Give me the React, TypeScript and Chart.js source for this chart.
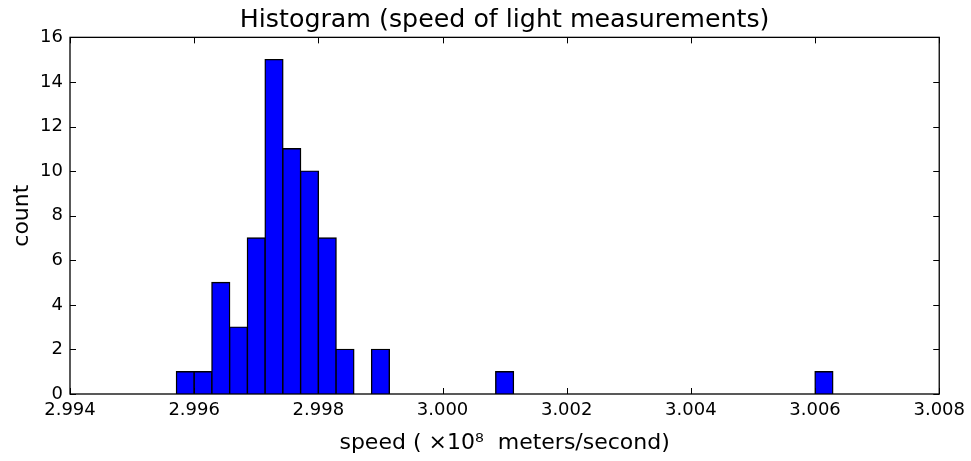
import React, { useEffect, useRef } from 'react';
import { Chart, registerables } from 'chart.js';

Chart.register(...registerables);

// Histogram bins: 37 bins of width 0.002/7, edges aligned on 2.996 and 2.998
const BIN_WIDTH = 0.002 / 7;
const FIRST_BIN_LEFT = 2.996 - BIN_WIDTH;
const binCounts = [
  1, 1, 5, 3, 7, 15, 11, 10, 7, 2,
  0, 2, 0, 0, 0, 0, 0, 0, 1, 0,
  0, 0, 0, 0, 0, 0, 0, 0, 0, 0,
  0, 0, 0, 0, 0, 0, 1,
];
const xTickValues = [2.994, 2.996, 2.998, 3.0, 3.002, 3.004, 3.006, 3.008];
const yTickValues = [0, 2, 4, 6, 8, 10, 12, 14, 16];

const TITLE = 'Histogram (speed of light measurements)';
const X_LABEL = 'speed ( \u00d710\u2078  meters/second)';
const Y_LABEL = 'count';

const FONT = '"DejaVu Sans", sans-serif';

const framePlugin = {
  id: 'frameTicks',
  afterDatasetsDraw(chart: any) {
    const { ctx, chartArea } = chart;
    const { left, right, top, bottom } = chartArea;
    const xs = chart.scales.x;
    const ys = chart.scales.y;
    const len = 6;
    ctx.save();
    ctx.strokeStyle = '#000';
    ctx.lineWidth = 1;
    ctx.beginPath();
    xTickValues.forEach((v) => {
      const px = Math.round(xs.getPixelForValue(v)) + 0.5;
      ctx.moveTo(px, bottom);
      ctx.lineTo(px, bottom - len);
      ctx.moveTo(px, top);
      ctx.lineTo(px, top + len);
    });
    yTickValues.forEach((v) => {
      const py = Math.round(ys.getPixelForValue(v)) + 0.5;
      ctx.moveTo(left, py);
      ctx.lineTo(left + len, py);
      ctx.moveTo(right, py);
      ctx.lineTo(right - len, py);
    });
    ctx.stroke();
    ctx.lineWidth = 1.3;
    ctx.strokeRect(left, top, right - left, bottom - top);
    ctx.restore();
  },
};

export default function App() {
  const canvasRef = useRef<HTMLCanvasElement | null>(null);

  useEffect(() => {
    const canvas = canvasRef.current;
    if (!canvas) return;
    Chart.defaults.font.family = FONT;
    Chart.defaults.color = '#000';

    const data = binCounts
      .map((c, i) => ({ x: FIRST_BIN_LEFT + (i + 0.5) * BIN_WIDTH, y: c }))
      .filter((p) => p.y > 0);

    const chart = new Chart(canvas, {
      type: 'bar',
      data: {
        datasets: [
          {
            data: data as any,
            backgroundColor: '#0000ff',
            borderColor: '#000000',
            borderWidth: 1.4,
            inflateAmount: 0.7,
            borderSkipped: 'start',
            categoryPercentage: 1,
            barPercentage: 1,
          } as any,
        ],
      },
      plugins: [framePlugin],
      options: {
        responsive: false,
        animation: false,
        devicePixelRatio: 1,
        layout: { padding: { left: 0, right: 31, top: 0, bottom: 0 } },
        plugins: {
          legend: { display: false },
          tooltip: { enabled: false },
          title: {
            display: true,
            text: TITLE,
            fullSize: false,
            color: '#000',
            font: { family: FONT, size: 25.3, weight: 'normal' },
            padding: { top: 5, bottom: 2 },
          },
        },
        scales: {
          x: {
            type: 'linear',
            position: 'bottom',
            min: 2.994,
            max: 3.008,
            offset: false,
            afterBuildTicks: (s: any) => {
              s.ticks = xTickValues.map((v) => ({ value: v }));
            },
            afterFit: (s: any) => {
              s.height = 67;
            },
            ticks: {
              autoSkip: false,
              maxRotation: 0,
              padding: 6,
              color: '#000',
              font: { family: FONT, size: 18 },
              callback: (v: any) => Number(v).toFixed(3),
            },
            grid: { display: false, drawTicks: false },
            border: { display: false },
            title: {
              display: true,
              text: X_LABEL,
              color: '#000',
              font: { family: FONT, size: 22 },
              padding: { top: 0, bottom: 5 },
            },
          },
          y: {
            type: 'linear',
            min: 0,
            max: 16,
            afterBuildTicks: (s: any) => {
              s.ticks = yTickValues.map((v) => ({ value: v }));
            },
            afterFit: (s: any) => {
              s.width = 70;
            },
            ticks: {
              padding: 7,
              color: '#000',
              font: { family: FONT, size: 18 },
            },
            grid: { display: false, drawTicks: false },
            border: { display: false },
            title: {
              display: true,
              text: Y_LABEL,
              color: '#000',
              font: { family: FONT, size: 22 },
              padding: { top: 9, bottom: 0 },
            },
          },
        },
      } as any,
    });

    return () => {
      chart.destroy();
    };
  }, []);

  return (
    <div style={{ position: 'absolute', left: 0, top: 0, width: 971, height: 461, background: '#fff' }}>
      <canvas ref={canvasRef} width={971} height={461} style={{ display: 'block' }} />
    </div>
  );
}
